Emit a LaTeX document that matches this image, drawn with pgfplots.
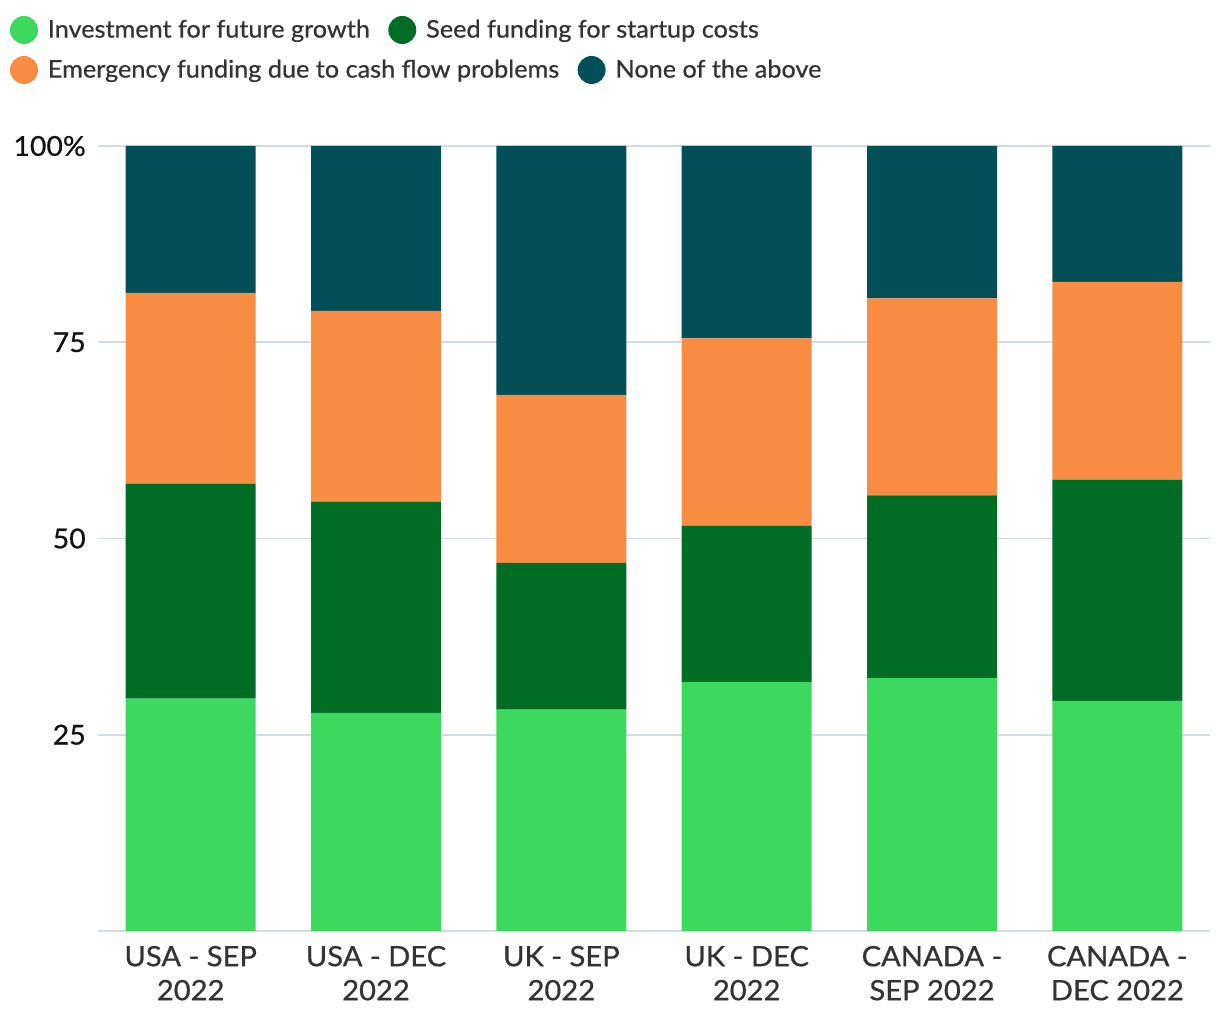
\documentclass[border=0pt]{standalone}
\usepackage{fontspec}
\setmainfont{Lato}[FakeBold=0.7, FakeStretch=1.04]
\usepackage{pgfplots}
\usepackage{pgfplotstable}
\pgfplotsset{compat=1.18}
\definecolor{cA}{HTML}{3DD95E}
\definecolor{cB}{HTML}{016C24}
\definecolor{cC}{HTML}{F98C43}
\definecolor{cD}{HTML}{024F57}
\definecolor{gridc}{HTML}{D3DCE0}
\definecolor{legc}{HTML}{333333}
\definecolor{tickc}{HTML}{111111}

\pgfplotstableread{
x a b c d
0 29.6 27.4 24.3 18.7
1 27.8 26.9 24.3 21.0
2 28.2 18.7 21.4 31.7
3 31.7 19.9 23.9 24.5
4 32.2 23.3 25.1 19.4
5 29.3 28.2 25.2 17.3
}\datatable

\begin{document}
\begin{tikzpicture}[x=1pt,y=1pt]
\path[use as bounding box] (-73.5,-66.75) rectangle (841.5,698.25);
\begin{axis}[
  at={(0,0)}, anchor=south west,
  scale only axis,
  width=834pt, height=588.75pt,
  xmin=-0.5, xmax=5.5, ymin=0, ymax=100,
  ybar stacked, bar width=97.5pt,
  axis line style={draw=none},
  major tick length=0pt,
  xtick={0,1,2,3,4,5},
  xticklabels={{USA - SEP\\2022},{USA - DEC\\2022},{UK - SEP\\2022},{UK - DEC\\2022},{CANADA -\\SEP 2022},{CANADA -\\DEC 2022}},
  ytick={0,25,50,75,100},
  yticklabels={,25,50,75,100\%},
  ymajorgrids,
  grid style={draw=gridc, line width=1.2pt},
  xticklabel style={font=\fontsize{21}{25.5}\selectfont, text=legc, align=center, anchor=north, inner sep=0pt, yshift=-11pt},
  yticklabel style={font=\fontsize{20.5}{24}\selectfont, text=tickc, anchor=east, inner sep=0pt, xshift=-9pt},
]
\addplot[fill=cA, draw=none] table[x=x, y=a] {\datatable};
\addplot[fill=cB, draw=none] table[x=x, y=b] {\datatable};
\addplot[fill=cC, draw=none] table[x=x, y=c] {\datatable};
\addplot[fill=cD, draw=none] table[x=x, y=d] {\datatable};
\end{axis}
\begin{scope}[font=\fontsize{18.2}{21}\selectfont, text=legc]
\node[circle, fill=cA, minimum size=21pt, inner sep=0pt] (c1) at (-55.5,675.75) {};
\node[anchor=base west, inner sep=0pt] (t1) at ([xshift=7pt, yshift=-5.7pt]c1.east) {Investment for future growth};
\node[circle, fill=cB, minimum size=21pt, inner sep=0pt, anchor=west] (c2) at ([xshift=13.5pt, yshift=5.7pt]t1.base east) {};
\node[anchor=base west, inner sep=0pt] (t2) at ([xshift=7pt, yshift=-5.7pt]c2.east) {Seed funding for startup costs};
\node[circle, fill=cC, minimum size=21pt, inner sep=0pt] (c3) at (-55.5,645.75) {};
\node[anchor=base west, inner sep=0pt] (t3) at ([xshift=7pt, yshift=-5.7pt]c3.east) {Emergency funding due to cash flow problems};
\node[circle, fill=cD, minimum size=21pt, inner sep=0pt, anchor=west] (c4) at ([xshift=13.5pt, yshift=5.7pt]t3.base east) {};
\node[anchor=base west, inner sep=0pt] (t4) at ([xshift=7pt, yshift=-5.7pt]c4.east) {None of the above};
\end{scope}
\end{tikzpicture}
\end{document}
